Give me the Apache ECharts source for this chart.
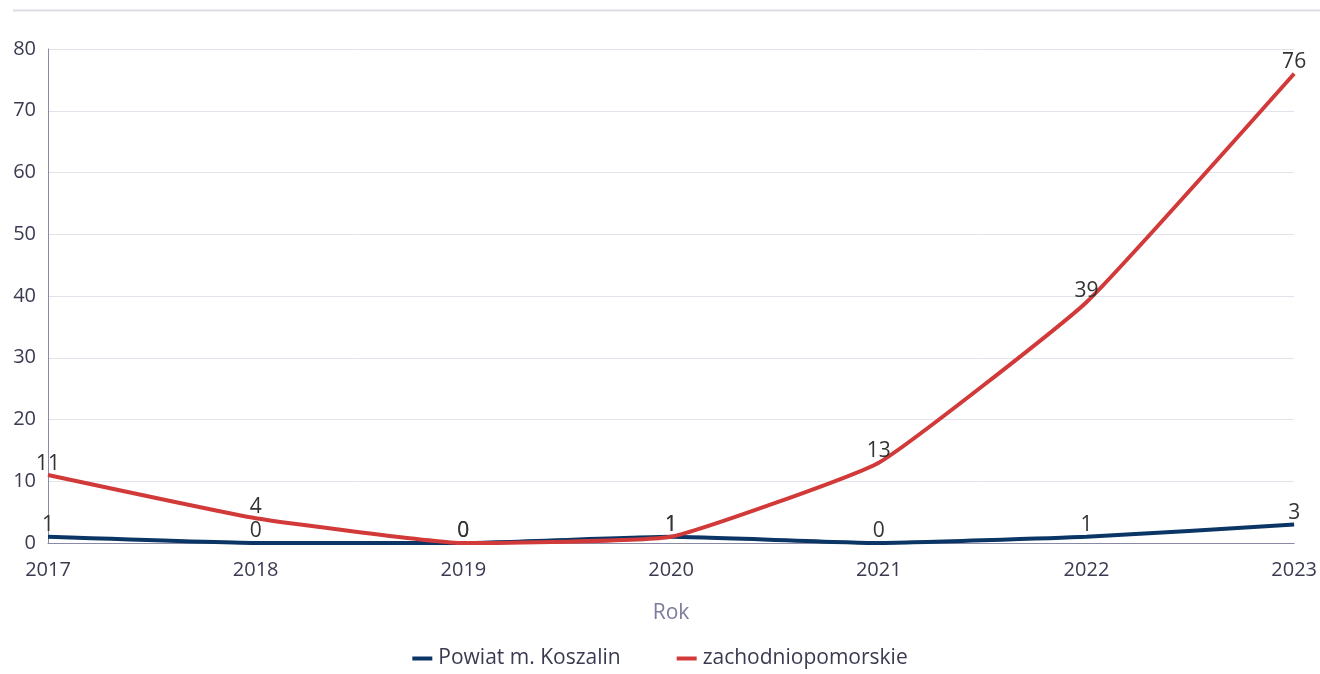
<!DOCTYPE html>
<html><head><meta charset="utf-8">
<script src="https://cdn.jsdelivr.net/npm/echarts@6/dist/echarts.min.js"></script>
<style>html,body{margin:0;padding:0;background:#fff}#c{width:1320px;height:674px}</style>
</head><body><div id="c"></div>
<script>
const years = ['2017','2018','2019','2020','2021','2022','2023'];
const koszalin = [1,0,0,1,0,1,3];
const zachodniopomorskie = [11,4,0,1,13,39,76];
const yTicks = {min:0, max:80, interval:10};

const chart = echarts.init(document.getElementById('c'), null, {renderer:'canvas'});
const font = 'Open Sans, Noto Sans, sans-serif';
const lbl = {show:true, position:'top', fontSize:21, color:'#333', fontFamily:font, distance:1};
chart.setOption({
  animation:false,
  textStyle:{fontFamily:font},
  graphic:[{type:'line', shape:{x1:13,y1:10.5,x2:1320,y2:10.5}, style:{stroke:'#dcdce6', lineWidth:2}}],
  grid:{left:48, right:24, top:49, bottom:131},
  legend:{bottom:0, left:'center', itemWidth:20, itemHeight:4, itemGap:56,
    textStyle:{fontSize:21, color:'#3a3a50', fontFamily:font, padding:[0,0,0,1]},
    data:[{name:'Powiat m. Koszalin', icon:'rect'},{name:'zachodniopomorskie', icon:'rect'}]},
  xAxis:{type:'category', data:years, boundaryGap:false,
    name:'Rok', nameLocation:'middle', nameGap:60,
    nameTextStyle:{fontSize:21, color:'#7b7b9e', fontFamily:font},
    axisLine:{lineStyle:{color:'#8a8aa6', width:1}},
    axisTick:{show:false},
    axisLabel:{fontSize:20, color:'#3a3a50', margin:17, fontFamily:font}},
  yAxis:{type:'value', min:yTicks.min, max:yTicks.max, interval:yTicks.interval,
    axisLine:{show:true, lineStyle:{color:'#8a8aa6', width:1}},
    axisTick:{show:false},
    splitLine:{lineStyle:{color:'#e2e2ea', width:1}},
    axisLabel:{fontSize:20, color:'#3a3a50', margin:12, fontFamily:font}},
  series:[
    {name:'Powiat m. Koszalin', type:'line', data:koszalin, smooth:0.12, symbol:'circle', symbolSize:0.1, showSymbol:true,
     lineStyle:{color:'#0b3565', width:4}, itemStyle:{color:'#0b3565'}, label:lbl},
    {name:'zachodniopomorskie', type:'line', data:zachodniopomorskie, smooth:0.12, symbol:'circle', symbolSize:0.1, showSymbol:true,
     lineStyle:{color:'#d23a3a', width:4}, itemStyle:{color:'#d23a3a'}, label:lbl}
  ]
});
</script></body></html>
